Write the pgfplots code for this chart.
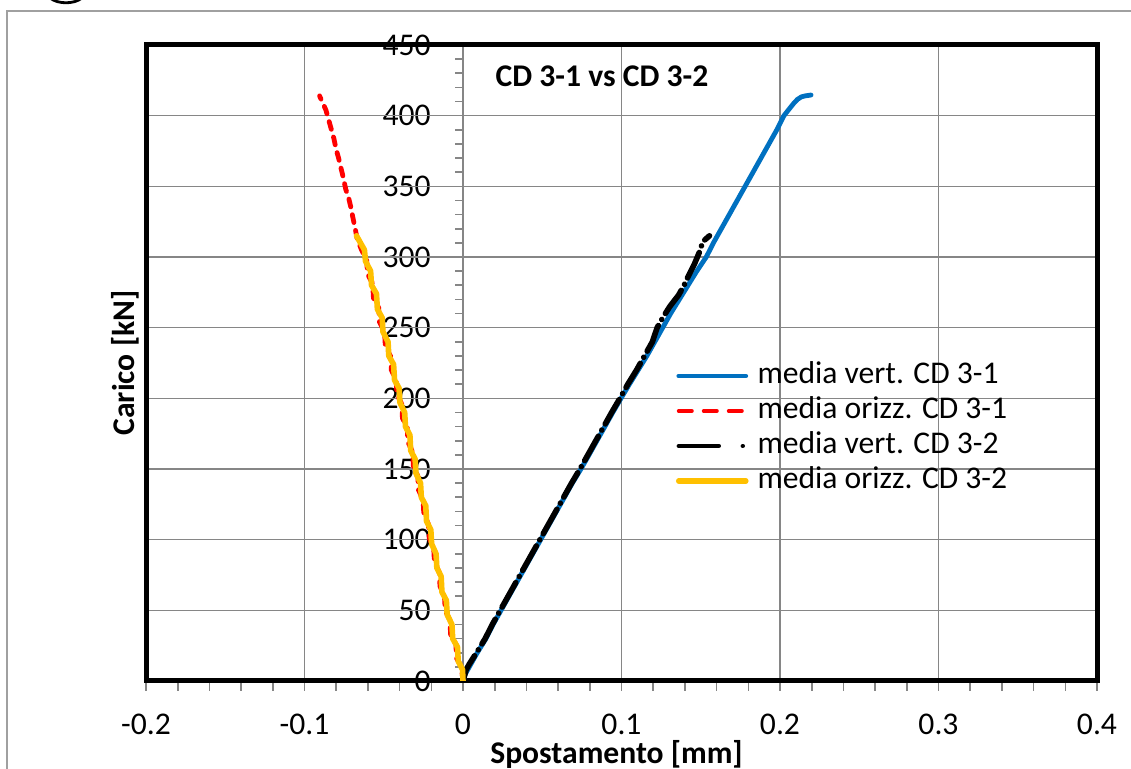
\documentclass[border=0pt]{standalone}
\usepackage{fontspec}
\setmainfont{Carlito}
\usepackage{pgfplots}
\pgfplotsset{compat=1.18}

\definecolor{serieblu}{RGB}{0,112,192}
\definecolor{seriearancio}{RGB}{255,192,0}
\definecolor{griglia}{RGB}{134,134,134}
\definecolor{cornice}{RGB}{160,160,160}

\newcommand{\testo}{\fontsize{15.8}{18}\selectfont}

\begin{document}
\begin{tikzpicture}[x=1pt,y=1pt]
\path[use as bounding box] (0,0) rectangle (565.5,384.5);
% chart area border
\draw[cornice, line width=0.7pt] (3.5,-10) |- (600,379);
\draw[line width=1.4pt] (25,385.5) .. controls (29,382.3) and (37,382.3) .. (41,385.5);

% vertical axis through x = 0
\begin{axis}[
  at={(73pt,44pt)}, anchor=south west, scale only axis,
  width=475.5pt, height=318pt,
  xmin=-0.2, xmax=0.4, ymin=0, ymax=450,
  axis x line=none, axis y line=center,
  y axis line style={-, draw=griglia, line width=0.8pt},
  ytick={0,50,...,450},
  yticklabels={0,50,100,150,200,250,300,350,400,450},
  minor y tick num=4,
  tick align=outside,
  major tick length=4pt, minor tick length=4pt,
  tick style={draw=griglia, line width=0.8pt},
  yticklabel style={anchor=east, inner sep=0pt, xshift=-12pt, font=\testo},
]
\addplot[draw=none] coordinates {(0,0)};
\end{axis}

% plot area: frame, grid, series, legend
\begin{axis}[
  at={(73pt,44pt)}, anchor=south west, scale only axis,
  width=475.5pt, height=318pt,
  xmin=-0.2, xmax=0.4, ymin=0, ymax=450,
  xtick={-0.2,-0.1,0,0.1,0.2,0.3,0.4},
  xticklabels={-0.2,-0.1,0,0.1,0.2,0.3,0.4},
  minor x tick num=4,
  ytick={0,50,...,450}, yticklabels={},
  xtick pos=lower, ytick pos=left,
  tick align=outside,
  major tick length=5pt, minor tick length=5pt,
  tick style={draw=griglia, line width=0.8pt},
  ytick style={draw=none},
  grid=major,
  major grid style={draw=griglia, line width=0.8pt},
  axis line style={line width=2.5pt, black},
  xticklabel style={anchor=center, inner sep=0pt, yshift=-16.5pt, font=\testo},
  xlabel={Spostamento [mm]},
  ylabel={Carico [kN]},
  every axis x label/.style={at={(rel axis cs:0.5,0)}, anchor=center,
    yshift=-36.5pt, xshift=-2.5pt, font=\bfseries\testo},
  every axis y label/.style={at={(rel axis cs:0,0.5)}, rotate=90, anchor=center,
    yshift=10.5pt, font=\bfseries\testo},
  title={CD 3-1 vs CD 3-2},
  title style={at={(rel axis cs:0.4795,0.932)}, anchor=center, font=\bfseries\testo},
  legend cell align=left,
  legend style={draw=none, fill=none, at={(rel axis cs:0.5573,0.5016)},
    anchor=north west, font=\testo, row sep=3.5pt, column sep=4.5pt,
    inner sep=0pt, outer sep=0pt,
    nodes={inner sep=0pt, text height=11pt, text depth=3pt}},
  legend image code/.code={\draw[#1, solid, line cap=round] (1pt,0pt) -- (34.5pt,0pt);},
]
% media vert. CD 3-1
\addplot[serieblu, line width=2.4pt, line join=round, line cap=round] coordinates {
(0,0) (0.0015,5) (0.004,10) (0.009,20) (0.0145,30) (0.019,40) (0.024,50)
(0.029,60) (0.034,70) (0.039,80) (0.044,90) (0.049,100) (0.054,110)
(0.059,120) (0.064,130) (0.069,140) (0.0744,150) (0.0795,160) (0.0845,170)
(0.0895,180) (0.0945,190) (0.0997,200) (0.105,210) (0.1105,220) (0.116,230)
(0.121,240) (0.126,250) (0.131,260) (0.1365,270) (0.142,280) (0.1475,290)
(0.1535,300) (0.158,310) (0.163,320) (0.168,330) (0.173,340) (0.178,350)
(0.183,360) (0.188,370) (0.193,380) (0.198,390) (0.2025,400) (0.2060,405)
(0.2085,408.5) (0.2110,411.5) (0.2135,413.3) (0.2160,414) (0.2196,414.6)
};
\addlegendentry{media vert. CD 3-1}
% media orizz. CD 3-1
\addplot[red, line width=2.4pt, line cap=round, dash pattern=on 4pt off 4pt,
  legend image code/.code={\draw[red, line width=2pt, line cap=round,
    dash pattern=on 6.5pt off 6pt] (1pt,0pt) -- (34.5pt,0pt);}] coordinates {
(0,0) (-0.0010,10) (-0.0040,16) (-0.0045,26) (-0.0078,33) (-0.0083,43)
(-0.0112,50) (-0.0117,60) (-0.0145,67) (-0.0150,77) (-0.0180,84) (-0.0185,94)
(-0.0213,101) (-0.0218,111) (-0.0247,118) (-0.0252,128) (-0.0280,135)
(-0.0285,145) (-0.0313,152) (-0.0318,162) (-0.0347,169) (-0.0352,179)
(-0.0382,186) (-0.0387,196) (-0.0417,203) (-0.0422,213) (-0.0452,220)
(-0.0458,230) (-0.0490,237) (-0.0495,247) (-0.0527,254) (-0.0532,264)
(-0.0565,271) (-0.0570,281) (-0.0602,288) (-0.0608,298) (-0.0640,305)
(-0.0668,313) (-0.0680,320) (-0.0695,328) (-0.0705,334) (-0.0722,342)
(-0.0740,348) (-0.0755,356) (-0.0770,363) (-0.0785,370) (-0.0800,376)
(-0.0815,384) (-0.0830,390) (-0.0850,398) (-0.0865,404) (-0.0885,409)
(-0.0905,414)
};
\addlegendentry{media orizz. CD 3-1}
% media vert. CD 3-2
\addplot[black, line width=2.8pt, line cap=round,
  dash pattern=on 14pt off 3.5pt on 0.01pt off 3.5pt,
  legend image code/.code={\draw[black, line width=2.2pt, line cap=round,
    dash pattern=on 20pt off 12pt on 0.01pt off 10pt] (1pt,0pt) -- (34.5pt,0pt);}] coordinates {
(0,0) (0.002,8) (0.004,12) (0.0085,20) (0.014,30) (0.0185,40) (0.0235,50)
(0.0285,60) (0.0335,70) (0.0385,80) (0.0435,90) (0.0485,100) (0.0535,110)
(0.0585,120) (0.0635,130) (0.0685,140) (0.0738,150) (0.0788,160)
(0.0838,170) (0.0888,180) (0.0938,190) (0.0990,200) (0.104,210)
(0.1095,220) (0.1150,231) (0.1195,240) (0.1225,250) (0.126,257)
(0.1305,265) (0.136,273) (0.1395,280) (0.142,286) (0.146,295) (0.149,303)
(0.1514,311) (0.1545,314) (0.1555,315)
};
\addlegendentry{media vert. CD 3-2}
% media orizz. CD 3-2
\addplot[seriearancio, line width=2.8pt, line join=round, line cap=round] coordinates {
(0,0) (-0.0003,8) (-0.0030,14) (-0.0035,24) (-0.0065,30) (-0.0070,40)
(-0.0100,47) (-0.0105,57) (-0.0133,63) (-0.0138,74) (-0.0165,80)
(-0.0170,90) (-0.0198,97) (-0.0203,107) (-0.0230,113) (-0.0235,124)
(-0.0263,130) (-0.0268,140) (-0.0297,147) (-0.0302,157) (-0.0330,163)
(-0.0335,174) (-0.0363,180) (-0.0368,190) (-0.0398,197) (-0.0403,207)
(-0.0432,213) (-0.0438,224) (-0.0468,230) (-0.0473,240) (-0.0505,247)
(-0.0510,257) (-0.0540,263) (-0.0546,274) (-0.0577,280) (-0.0583,290)
(-0.0615,297) (-0.0622,305) (-0.0652,311) (-0.0672,315)
};
\addlegendentry{media orizz. CD 3-2}
\end{axis}
\end{tikzpicture}
\end{document}
